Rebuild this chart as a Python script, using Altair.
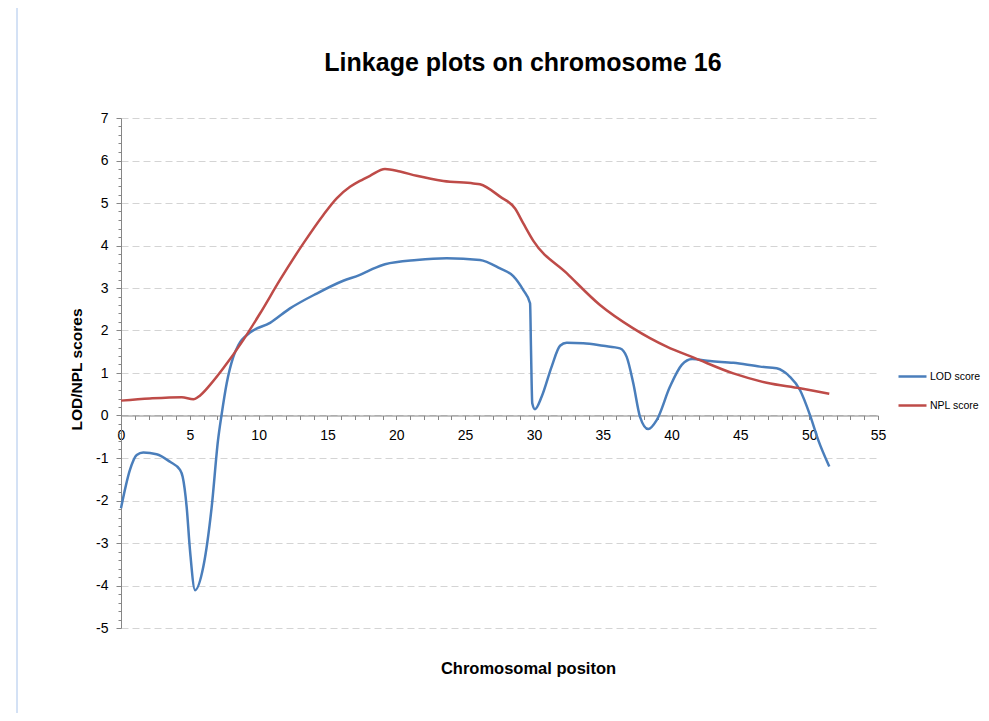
import altair as alt
import pandas as pd

# ---- data ----
lod_x = [0, 0.65, 1.14, 1.62, 2.59, 3.56, 4.29, 4.48, 4.77, 5.01, 5.38, 5.98, 6.59, 7.05, 7.3,
         7.68, 8.16, 8.53, 9.37, 10.83, 12.28, 14.22, 16.15, 17.36, 18.09, 19.18, 21.48, 23.66,
         26.08, 27.54, 28.5, 29.23, 29.72, 29.79, 29.88, 30.08, 30.56, 31.29, 31.9, 32.38, 33.59,
         35.04, 36.25, 36.74, 37.22, 37.71, 38.31, 38.92, 39.89, 40.74, 41.5, 42.79, 44.49, 46.43,
         47.64, 48.6, 49.33, 50.06, 50.66, 51.46]
lod_y = [-2.18, -1.28, -0.93, -0.87, -0.91, -1.09, -1.28, -1.44, -2.15, -3.16, -4.11, -3.56, -2.15,
         -0.58, 0.0, 0.76, 1.38, 1.66, 1.95, 2.18, 2.52, 2.87, 3.17, 3.31, 3.42, 3.56, 3.66, 3.70,
         3.66, 3.46, 3.28, 2.95, 2.64, 1.54, 0.29, 0.15, 0.44, 1.15, 1.64, 1.71, 1.70, 1.64, 1.58,
         1.38, 0.76, -0.03, -0.32, -0.11, 0.68, 1.19, 1.33, 1.28, 1.24, 1.15, 1.11, 0.91, 0.60,
         0.01, -0.58, -1.20]

npl_x = [0, 2.1, 4.41, 5.26, 5.62, 6.47, 7.43, 8.89, 10.1, 11.55, 13.25, 14.7, 15.67, 16.64, 17.36,
         18.09, 19.18, 20.27, 21.48, 23.42, 25.6, 26.08, 27.54, 28.63, 29.23, 29.96, 32.38, 34.8,
         37.22, 38.43, 39.65, 41.7, 44.49, 46.91, 49.33, 51.46]
npl_y = [0.35, 0.40, 0.43, 0.38, 0.44, 0.72, 1.11, 1.78, 2.40, 3.19, 4.05, 4.72, 5.11, 5.38, 5.52,
         5.64, 5.80, 5.74, 5.64, 5.52, 5.46, 5.44, 5.15, 4.87, 4.52, 4.11, 3.35, 2.60,
         2.05, 1.82, 1.62, 1.35, 0.99, 0.77, 0.64, 0.51]

series_names = ["LOD score", "NPL score"]
series_colors = ["#4A7EBB", "#BE4B48"]

chart_title = "Linkage plots on chromosome 16"

y_ticks = [round(-5 + 0.2 * i, 1) for i in range(61)]
x_ticks = list(range(0, 56))

df = pd.concat([
    pd.DataFrame({"pos": lod_x, "score": lod_y, "series": series_names[0]}),
    pd.DataFrame({"pos": npl_x, "score": npl_y, "series": series_names[1]}),
])

FONT = "Liberation Sans"
AXIS_GRAY = "#868686"

major_y = "abs(datum.value - round(datum.value)) < 0.001"
major_x = "datum.value % 5 === 0"

lines = alt.Chart(df).mark_line(interpolate="monotone", strokeWidth=2.5).encode(
    x=alt.X("pos:Q",
            scale=alt.Scale(domain=[0, 55], nice=False, zero=False),
            axis=alt.Axis(
                values=x_ticks,
                labelExpr=f"{major_x} ? datum.label : ''",
                grid=False,
                offset=-212.5,
                domainColor=AXIS_GRAY, domainWidth=1,
                tickColor=AXIS_GRAY, tickSize=4,
                labelFont=FONT, labelFontSize=14, labelColor="#000000",
                labelPadding=9, labelFlush=False, labelOverlap=False,
                title="Chromosomal positon",
                titleFont=FONT, titleFontSize=16.5, titleFontWeight="bold", titleColor="#000000",
                titleX=407, titleY=252.5, titleAlign="center", titleBaseline="middle",
            )),
    y=alt.Y("score:Q",
            scale=alt.Scale(domain=[-5, 7], nice=False, zero=False),
            axis=alt.Axis(
                values=y_ticks,
                labelExpr=f"{major_y} ? '' + round(datum.value) : ''",
                grid=True,
                gridColor="#D4D4D4", gridDash=[7, 4], gridWidth=1,
                gridOpacity={"condition": {"test": major_y, "value": 1}, "value": 0},
                domainColor=AXIS_GRAY, domainWidth=1,
                tickColor=AXIS_GRAY,
                tickSize={"condition": {"test": major_y, "value": 5}, "value": 3},
                labelFont=FONT, labelFontSize=14, labelColor="#000000",
                labelPadding=8, labelFlush=False, labelOverlap=False,
                title="LOD/NPL scores",
                titleFont=FONT, titleFontSize=15.5, titleFontWeight="bold", titleColor="#000000",
                titleX=-45, titleY=251, titleAngle=-90, titleAlign="center", titleBaseline="middle",
            )),
    color=alt.Color("series:N",
                    scale=alt.Scale(domain=series_names, range=series_colors),
                    legend=alt.Legend(
                        title=None, orient="none", legendX=776, legendY=243,
                        symbolType="stroke", symbolSize=784, symbolStrokeWidth=2.5,
                        labelFont=FONT, labelFontSize=10.5, labelColor="#000000",
                        labelOffset=2, rowPadding=8,
                    )),
)

one = pd.DataFrame({"t": [chart_title]})

frame_line = alt.Chart(one).mark_rule(
    color="#A9C4EB", strokeWidth=1
).encode(x=alt.value(-104), y=alt.value(-118), y2=alt.value(603))

title_text = alt.Chart(one).mark_text(
    font=FONT, fontSize=25, fontWeight="bold", color="#000000",
    align="center", baseline="alphabetic",
).encode(x=alt.value(402), y=alt.value(-47.5), text="t:N")

chart = alt.layer(frame_line, title_text, lines).properties(
    width=757,
    height=510,
    autosize=alt.AutoSizeParams(type="none"),
    padding={"left": 113, "top": 110, "right": 103, "bottom": 85},
    background="#FFFFFF",
).configure_view(stroke=None)

chart.save("out.html", embed_options={"renderer": "svg", "actions": False})
